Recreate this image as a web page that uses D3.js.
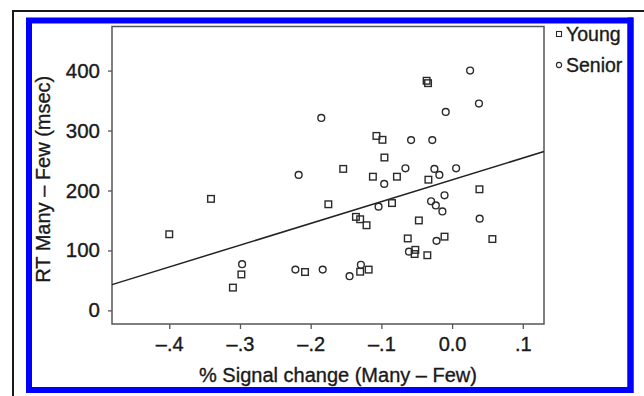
<!DOCTYPE html>
<html><head><meta charset="utf-8">
<script src="https://cdn.jsdelivr.net/npm/d3@7"></script>
<style>
html,body{margin:0;padding:0;background:#fff;}
svg{display:block;}
text{font-family:"Liberation Sans",Arial,Helvetica,sans-serif;fill:#1a1a1a;stroke:#1a1a1a;stroke-width:0.35px;}
</style></head>
<body>
<svg id="chart" width="644" height="396"></svg>
<script>
// ---- data ----
const youngX = [-0.400,-0.341,-0.298,-0.310,-0.036,-0.034,-0.107,-0.0985,-0.0957,-0.154,-0.112,-0.078,-0.0335,-0.175,-0.085,-0.136,-0.130,-0.121,-0.047,-0.0627,-0.0107,-0.052,-0.053,-0.035,-0.208,-0.130,-0.118,0.0387,0.057];
const youngY = [127,186,60,38,383,379,291,284.5,255,236,223,223,218,177,179,156,152,142,150,120,123,101,94,92,64,64.5,68,202,119];
const seniorX = [-0.297,-0.009,-0.185,-0.058,-0.028,-0.217,-0.096,-0.066,-0.025,-0.018,0.0057,0.0255,0.038,-0.104,-0.0107,-0.0297,-0.023,-0.0137,-0.022,-0.061,-0.2216,-0.183,-0.145,-0.129,0.039];
const seniorY = [77,331,321,284,284,226,211,237,236,226,237,400,345,173,192,182,175,165,116,98,68,68,57,76,153];
const fitX = [-0.481, 0.130];
const fitY = [43, 265];
const xTicks = [-0.4,-0.3,-0.2,-0.1,0.0,0.1];
const xTickLabels = ["\u2013.4","\u2013.3","\u2013.2","\u2013.1","0.0",".1"];
const yTicks = [0,100,200,300,400];
const legendLabels = ["Young","Senior"];
const xTitle = "% Signal change (Many \u2013 Few)";
const yTitle = "RT Many \u2013 Few (msec)";

const svg = d3.select("#chart");
// outer black frame lines (top & left)
svg.append("line").attr("x1",13).attr("x2",644).attr("y1",11).attr("y2",11).attr("stroke","#1a1a1a").attr("stroke-width",2);
svg.append("line").attr("x1",13).attr("x2",13).attr("y1",10).attr("y2",396).attr("stroke","#1a1a1a").attr("stroke-width",2);
// blue frame
svg.append("rect").attr("x",29).attr("y",20.5).attr("width",601.5).attr("height",369.5)
  .attr("fill","#fff").attr("stroke","#0000ff").attr("stroke-width",6);

const L=112, R=544, T=26.5, B=324;
const x = d3.scaleLinear().domain([-0.481,0.130]).range([L,R]);
const y = d3.scaleLinear().domain([-22.7,473.5]).range([B,T]);

const axisCol="#555";
// frame
svg.append("rect").attr("x",L).attr("y",T).attr("width",R-L).attr("height",B-T)
  .attr("fill","none").attr("stroke",axisCol).attr("stroke-width",1.5);

const xa = svg.append("g").attr("transform",`translate(0,${B})`)
  .call(d3.axisBottom(x).tickValues(xTicks).tickSize(5).tickPadding(8).tickFormat((d,i)=>xTickLabels[i]));
xa.select(".domain").remove();
xa.selectAll("line").attr("stroke",axisCol).attr("stroke-width",1.3);
xa.selectAll("text").style("font-size","20px").attr("fill","#1a1a1a");

const ya = svg.append("g").attr("transform",`translate(${L},0)`)
  .call(d3.axisLeft(y).tickValues(yTicks).tickSize(4).tickPadding(8));
ya.select(".domain").remove();
ya.selectAll("line").attr("stroke",axisCol).attr("stroke-width",1.3);
ya.selectAll("text").style("font-size","20.5px").attr("fill","#1a1a1a");

svg.append("text").attr("x",(L+R)/2 + 10).attr("y",382).attr("text-anchor","middle")
  .style("font-size","20px").text(xTitle);
svg.append("text").attr("transform",`translate(50,${(T+B)/2 + 4}) rotate(-90)`).attr("text-anchor","middle")
  .style("font-size","20px").text(yTitle);

// fit line
svg.append("line").attr("x1",x(fitX[0])).attr("y1",y(fitY[0])).attr("x2",x(fitX[1])).attr("y2",y(fitY[1]))
  .attr("stroke","#222").attr("stroke-width",1.5);

const mk="#2a2a2a";
svg.append("g").selectAll("rect").data(youngX.map((v,i)=>[v,youngY[i]])).join("rect")
  .attr("x",d=>x(d[0])-3.3).attr("y",d=>y(d[1])-3.3).attr("width",6.6).attr("height",6.6)
  .attr("fill","none").attr("stroke",mk).attr("stroke-width",1.4);
svg.append("g").selectAll("circle").data(seniorX.map((v,i)=>[v,seniorY[i]])).join("circle")
  .attr("cx",d=>x(d[0])).attr("cy",d=>y(d[1])).attr("r",3.4)
  .attr("fill","none").attr("stroke",mk).attr("stroke-width",1.4);

// legend
const lg = svg.append("g");
lg.append("rect").attr("x",556.5).attr("y",31.5).attr("width",5).attr("height",5).attr("fill","none").attr("stroke",mk).attr("stroke-width",1.1);
lg.append("circle").attr("cx",559).attr("cy",65).attr("r",2.6).attr("fill","none").attr("stroke",mk).attr("stroke-width",1.1);
lg.append("text").attr("x",566).attr("y",41).style("font-size","19.5px").text(legendLabels[0]);
lg.append("text").attr("x",566).attr("y",72).style("font-size","19.5px").text(legendLabels[1]);
// redraw right blue edge over clipped legend text
svg.append("line").attr("x1",630.5).attr("x2",630.5).attr("y1",17.5).attr("y2",393).attr("stroke","#0000ff").attr("stroke-width",6);
</script>
</body></html>
